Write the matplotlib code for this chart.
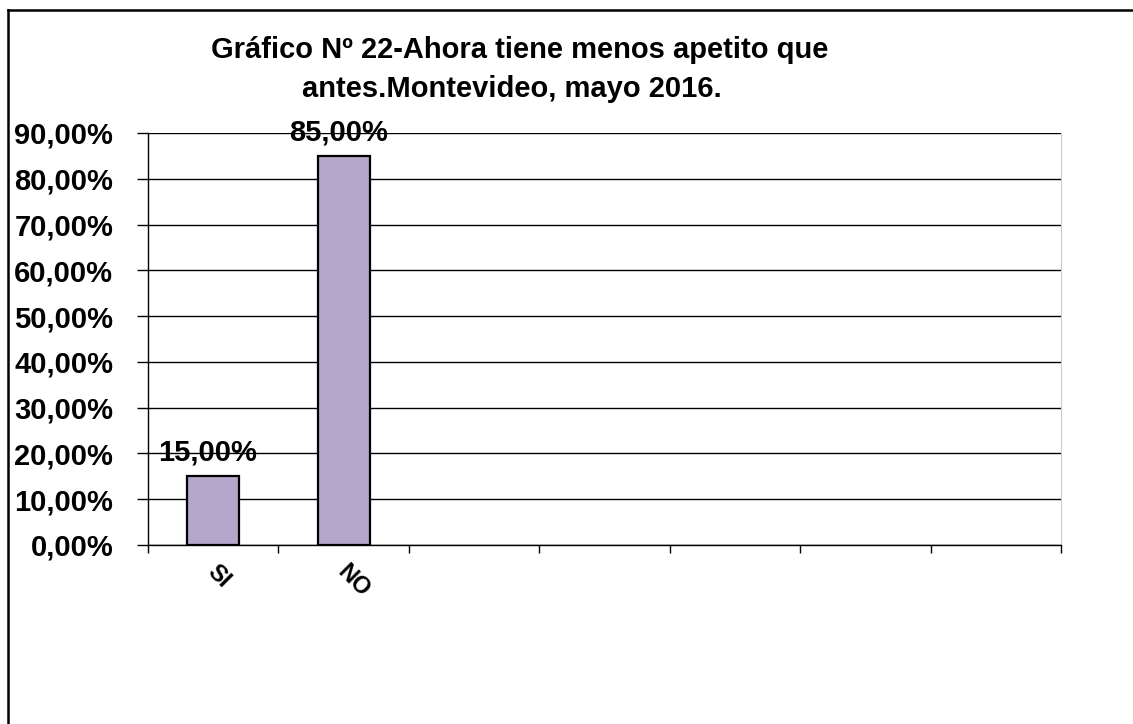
import matplotlib.pyplot as plt
from matplotlib.lines import Line2D

# Gráfico Nº 22 - menos apetito que antes

categories = ["SI", "NO"]
values = [15.0, 85.0]
n_slots = 7
yticks = [0, 10, 20, 30, 40, 50, 60, 70, 80, 90]
title_lines = ["Gráfico Nº 22-Ahora tiene menos apetito que",
               "antes.Montevideo, mayo 2016."]

plt.rcParams['font.family'] = ['Liberation Sans', 'DejaVu Sans']
plt.rcParams['font.weight'] = 'bold'

W, H = 1133, 724
fig = plt.figure(figsize=(W / 100, H / 100), dpi=100)
ax = fig.add_axes([148 / W, 1 - 545 / H, (1061 - 148) / W, (545 - 133) / H])

x = list(range(len(categories)))
ax.bar(x, values, width=0.4, color='#B4A7CC', edgecolor='black', linewidth=1.6, zorder=3)

for xi, v in zip(x, values):
    ax.annotate(f"{v:.2f}%".replace('.', ','), (xi, v), xytext=(-4, 7),
                textcoords='offset points', ha='center', va='bottom',
                fontsize=21, fontweight='bold', zorder=4)

ax.set_xlim(-0.5, n_slots - 0.5)
ax.set_ylim(0, 90)
ax.set_yticks(yticks)
ax.set_yticklabels([f"{t:.2f}%".replace('.', ',') for t in yticks], fontsize=21, fontweight='bold')
ax.yaxis.grid(True, color='black', linewidth=1.0, zorder=0)
ax.tick_params(axis='y', length=8, width=1, pad=17)

# category boundaries as ticks, labels on their own
ax.set_xticks([i - 0.5 for i in range(n_slots + 1)])
ax.set_xticklabels([])
ax.tick_params(axis='x', length=6, width=1)
for xi, c in zip(x, categories):
    ax.text(xi - 0.02, -5.2, c, rotation=-45, rotation_mode='anchor',
            ha='left', va='center', fontsize=17, fontweight='bold')

ax.spines['top'].set_visible(False)
ax.spines['right'].set_color('#cccccc')
ax.spines['left'].set_linewidth(1)
ax.spines['bottom'].set_linewidth(1)

fig.text(520 / W, 1 - 50 / H, title_lines[0], ha='center', va='center', fontsize=21, fontweight='bold')
fig.text(512 / W, 1 - 89 / H, title_lines[1], ha='center', va='center', fontsize=21, fontweight='bold')

# outer frame (left and top edges only visible)
fig.add_artist(Line2D([8 / W, 8 / W], [0, 1 - 10 / H], color='black', linewidth=1.8))
fig.add_artist(Line2D([8 / W, 1], [1 - 10 / H, 1 - 10 / H], color='black', linewidth=1.8))

fig.savefig('out.png', dpi=100)
